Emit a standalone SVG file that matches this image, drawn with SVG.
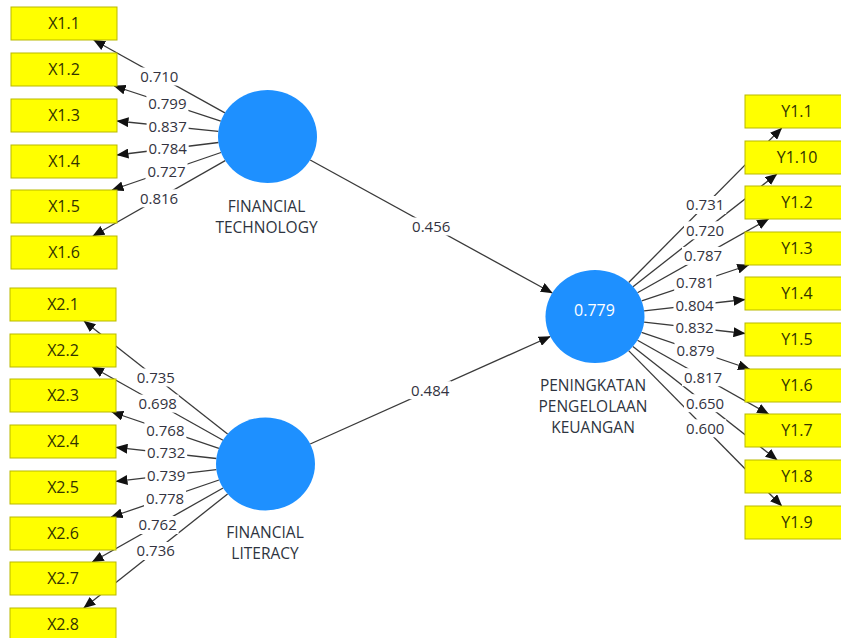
<svg xmlns="http://www.w3.org/2000/svg" width="841" height="638" viewBox="0 0 841 638">
  <defs>
    <marker id="arrow" markerUnits="userSpaceOnUse" viewBox="0 0 12 10" markerWidth="12" markerHeight="10" refX="11.5" refY="5" orient="auto">
      <path d="M0,0 L12,5 L0,10 Z" fill="#111"/>
    </marker>
    <style>
      .edge { fill: none; stroke: #3a3a3a; stroke-width: 1.3; marker-end: url(#arrow); }
      .lblbg { fill: #ffffff; }
      .lbl { font-family: "Open Sans", "DejaVu Sans", sans-serif; font-size: 15px; fill: #333340; text-anchor: middle; }
      .ind rect { fill: #ffff00; stroke: #b9b900; stroke-width: 1; }
      .ind text { font-family: "Open Sans", "DejaVu Sans", sans-serif; font-size: 16px; fill: #333300; text-anchor: middle; }
      .lat ellipse { fill: #1e90ff; }
      .lat text { font-family: "Open Sans", "DejaVu Sans", sans-serif; font-size: 15.5px; fill: #2e3440; text-anchor: middle; }
      .lat text.r2 { fill: #ffffff; font-size: 16px; }
    </style>
  </defs>

  <!-- loadings and path coefficients -->
  <g id="connectors">
    <!-- FINANCIAL TECHNOLOGY indicators -->
    <path class="edge" d="M224.9,112.9 L93.7,40"/>
    <path class="edge" d="M220.8,121.1 L114.1,86"/>
    <path class="edge" d="M218.3,131.4 L117,121"/>
    <path class="edge" d="M218.5,142.5 L117,155"/>
    <path class="edge" d="M221,152.5 L112,190"/>
    <path class="edge" d="M225.2,160.6 L92.9,236"/>
    <!-- FINANCIAL LITERACY indicators -->
    <path class="edge" d="M227.6,434.1 L84,321"/>
    <path class="edge" d="M223,440.2 L92.4,367"/>
    <path class="edge" d="M218.9,448.3 L111.8,412"/>
    <path class="edge" d="M216.4,458.5 L116,447.4"/>
    <path class="edge" d="M216.4,469.7 L116,481.4"/>
    <path class="edge" d="M219,480 L111.1,517"/>
    <path class="edge" d="M223.1,488 L92.2,562"/>
    <path class="edge" d="M227.6,494 L83.8,608"/>
    <!-- PENINGKATAN PENGELOLAAN KEUANGAN indicators -->
    <path class="edge" d="M628.7,282.5 L781.7,128"/>
    <path class="edge" d="M633,286.7 L776.9,174"/>
    <path class="edge" d="M637.5,292.7 L768.6,219"/>
    <path class="edge" d="M641.7,300.9 L748.8,265"/>
    <path class="edge" d="M644.1,310.9 L745,299.5"/>
    <path class="edge" d="M644.1,322.1 L745,333.5"/>
    <path class="edge" d="M641.5,332.3 L749.5,369"/>
    <path class="edge" d="M637.5,340.3 L768.6,414"/>
    <path class="edge" d="M632.9,346.4 L777.1,460"/>
    <path class="edge" d="M628.6,350.6 L781.7,506"/>
    <!-- structural paths -->
    <path class="edge" d="M310.2,160 L552.3,293"/>
    <path class="edge" d="M310.2,444 L550.3,336.5"/>

    <!-- edge labels -->
    <g id="edge-labels">
      <rect class="lblbg" x="138.3" y="67.5" width="42" height="18"/><text class="lbl" x="159.3" y="81.8">0.710</text>
      <rect class="lblbg" x="146.4" y="94.5" width="42" height="18"/><text class="lbl" x="167.4" y="108.8">0.799</text>
      <rect class="lblbg" x="146.6" y="117.2" width="42" height="18"/><text class="lbl" x="167.6" y="131.5">0.837</text>
      <rect class="lblbg" x="146.7" y="139.8" width="42" height="18"/><text class="lbl" x="167.7" y="154.1">0.784</text>
      <rect class="lblbg" x="145.5" y="162.2" width="42" height="18"/><text class="lbl" x="166.5" y="176.5">0.727</text>
      <rect class="lblbg" x="138" y="189.3" width="42" height="18"/><text class="lbl" x="159" y="203.6">0.816</text>

      <rect class="lblbg" x="134.8" y="368.5" width="42" height="18"/><text class="lbl" x="155.8" y="382.8">0.735</text>
      <rect class="lblbg" x="136.7" y="394.6" width="42" height="18"/><text class="lbl" x="157.7" y="408.9">0.698</text>
      <rect class="lblbg" x="144.4" y="421.2" width="42" height="18"/><text class="lbl" x="165.4" y="435.5">0.768</text>
      <rect class="lblbg" x="145.2" y="444" width="42" height="18"/><text class="lbl" x="166.2" y="458.3">0.732</text>
      <rect class="lblbg" x="145.2" y="466.5" width="42" height="18"/><text class="lbl" x="166.2" y="480.8">0.739</text>
      <rect class="lblbg" x="144" y="489.5" width="42" height="18"/><text class="lbl" x="165" y="503.8">0.778</text>
      <rect class="lblbg" x="136.6" y="516" width="42" height="18"/><text class="lbl" x="157.6" y="530.3">0.762</text>
      <rect class="lblbg" x="134.7" y="542" width="42" height="18"/><text class="lbl" x="155.7" y="556.3">0.736</text>

      <rect class="lblbg" x="684.2" y="196" width="42" height="18"/><text class="lbl" x="705.2" y="210.3">0.731</text>
      <rect class="lblbg" x="684" y="221.3" width="42" height="18"/><text class="lbl" x="705" y="235.6">0.720</text>
      <rect class="lblbg" x="682" y="246.9" width="42" height="18"/><text class="lbl" x="703" y="261.2">0.787</text>
      <rect class="lblbg" x="674.2" y="274" width="42" height="18"/><text class="lbl" x="695.2" y="288.3">0.781</text>
      <rect class="lblbg" x="673.5" y="296.2" width="42" height="18"/><text class="lbl" x="694.5" y="310.5">0.804</text>
      <rect class="lblbg" x="673.5" y="318.8" width="42" height="18"/><text class="lbl" x="694.5" y="333.1">0.832</text>
      <rect class="lblbg" x="674.5" y="341.7" width="42" height="18"/><text class="lbl" x="695.5" y="356">0.879</text>
      <rect class="lblbg" x="682" y="368.2" width="42" height="18"/><text class="lbl" x="703" y="382.5">0.817</text>
      <rect class="lblbg" x="684" y="394.2" width="42" height="18"/><text class="lbl" x="705" y="408.5">0.650</text>
      <rect class="lblbg" x="684.2" y="419.3" width="42" height="18"/><text class="lbl" x="705.2" y="433.6">0.600</text>

      <rect class="lblbg" x="410.2" y="217.5" width="42" height="18"/><text class="lbl" x="431.2" y="231.8">0.456</text>
      <rect class="lblbg" x="409.2" y="381.2" width="42" height="18"/><text class="lbl" x="430.2" y="395.5">0.484</text>
    </g>
  </g>

  <!-- latent variables -->
  <g id="financial-technology" class="lat">
    <ellipse cx="267.5" cy="136.5" rx="49.5" ry="46.5"/>
    <text x="266.5" y="212">FINANCIAL</text>
    <text x="266.5" y="233">TECHNOLOGY</text>
  </g>
  <g id="financial-literacy" class="lat">
    <ellipse cx="265.5" cy="464" rx="49.5" ry="46.5"/>
    <text x="265" y="538">FINANCIAL</text>
    <text x="265" y="559">LITERACY</text>
  </g>
  <g id="peningkatan-pengelolaan-keuangan" class="lat">
    <ellipse cx="595" cy="316.5" rx="49.5" ry="46.5"/>
    <text class="r2" x="594.5" y="316">0.779</text>
    <text x="593" y="391">PENINGKATAN</text>
    <text x="593" y="412">PENGELOLAAN</text>
    <text x="593" y="433">KEUANGAN</text>
  </g>

  <!-- indicators of FINANCIAL TECHNOLOGY -->
  <g id="x1-1" class="ind"><rect x="11" y="7" width="106" height="33"/><text x="64" y="29">X1.1</text></g>
  <g id="x1-2" class="ind"><rect x="11" y="53" width="106" height="33"/><text x="64" y="75">X1.2</text></g>
  <g id="x1-3" class="ind"><rect x="11" y="99" width="106" height="33"/><text x="64" y="121">X1.3</text></g>
  <g id="x1-4" class="ind"><rect x="11" y="145" width="106" height="33"/><text x="64" y="167">X1.4</text></g>
  <g id="x1-5" class="ind"><rect x="11" y="190" width="106" height="33"/><text x="64" y="212">X1.5</text></g>
  <g id="x1-6" class="ind"><rect x="11" y="236" width="106" height="33"/><text x="64" y="258">X1.6</text></g>

  <!-- indicators of FINANCIAL LITERACY -->
  <g id="x2-1" class="ind"><rect x="10" y="288" width="106" height="33"/><text x="63" y="310">X2.1</text></g>
  <g id="x2-2" class="ind"><rect x="10" y="334" width="106" height="33"/><text x="63" y="356">X2.2</text></g>
  <g id="x2-3" class="ind"><rect x="10" y="379" width="106" height="33"/><text x="63" y="401">X2.3</text></g>
  <g id="x2-4" class="ind"><rect x="10" y="425" width="106" height="33"/><text x="63" y="447">X2.4</text></g>
  <g id="x2-5" class="ind"><rect x="10" y="471" width="106" height="33"/><text x="63" y="493">X2.5</text></g>
  <g id="x2-6" class="ind"><rect x="10" y="517" width="106" height="33"/><text x="63" y="539">X2.6</text></g>
  <g id="x2-7" class="ind"><rect x="10" y="562" width="106" height="33"/><text x="63" y="584">X2.7</text></g>
  <g id="x2-8" class="ind"><rect x="10" y="608" width="106" height="33"/><text x="63" y="630">X2.8</text></g>

  <!-- indicators of PENINGKATAN PENGELOLAAN KEUANGAN -->
  <g id="y1-1" class="ind"><rect x="745" y="95" width="104" height="33"/><text x="797" y="117">Y1.1</text></g>
  <g id="y1-10" class="ind"><rect x="745" y="141" width="104" height="33"/><text x="797" y="163">Y1.10</text></g>
  <g id="y1-2" class="ind"><rect x="745" y="186" width="104" height="33"/><text x="797" y="208">Y1.2</text></g>
  <g id="y1-3" class="ind"><rect x="745" y="232" width="104" height="33"/><text x="797" y="254">Y1.3</text></g>
  <g id="y1-4" class="ind"><rect x="745" y="277" width="104" height="33"/><text x="797" y="299">Y1.4</text></g>
  <g id="y1-5" class="ind"><rect x="745" y="323" width="104" height="33"/><text x="797" y="345">Y1.5</text></g>
  <g id="y1-6" class="ind"><rect x="745" y="369" width="104" height="33"/><text x="797" y="391">Y1.6</text></g>
  <g id="y1-7" class="ind"><rect x="745" y="414" width="104" height="33"/><text x="797" y="436">Y1.7</text></g>
  <g id="y1-8" class="ind"><rect x="745" y="460" width="104" height="33"/><text x="797" y="482">Y1.8</text></g>
  <g id="y1-9" class="ind"><rect x="745" y="506" width="104" height="33"/><text x="797" y="528">Y1.9</text></g>
</svg>
